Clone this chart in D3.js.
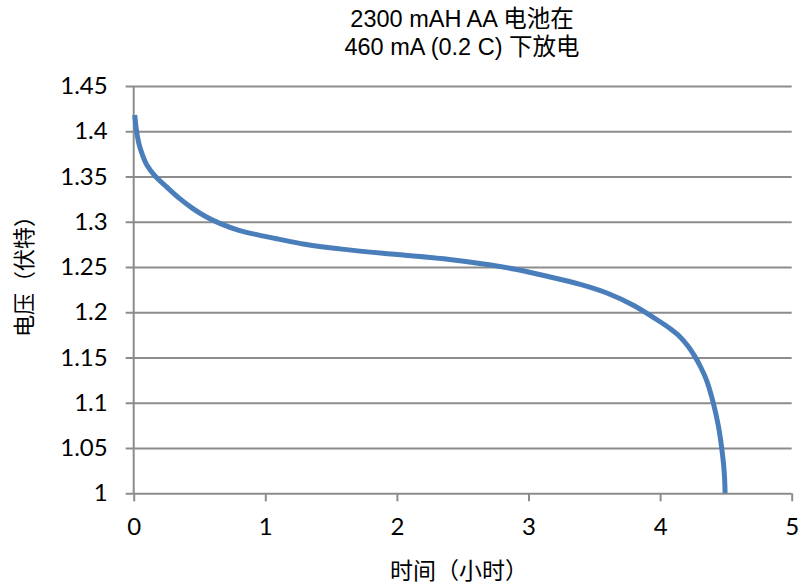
<!DOCTYPE html>
<html><head><meta charset="utf-8">
<script src="https://cdn.jsdelivr.net/npm/d3@7/dist/d3.min.js"></script>
<style>body{margin:0;background:#fff}</style>
</head><body>
<svg id="c" width="799" height="587"></svg>
<script>
const hours = [0.008, 0.02, 0.04, 0.07, 0.1, 0.16, 0.25, 0.35, 0.45, 0.55, 0.65, 0.8, 0.95, 1.1, 1.3, 1.6, 2.0, 2.4, 2.7, 2.9, 3.15, 3.4, 3.6, 3.8, 4.0, 4.075, 4.15, 4.21, 4.265, 4.31, 4.354, 4.404, 4.442, 4.468, 4.487, 4.494];
const volts = [1.418, 1.402, 1.386, 1.3725, 1.3628, 1.351, 1.3385, 1.3255, 1.3145, 1.3055, 1.2985, 1.2905, 1.2853, 1.2808, 1.2752, 1.2695, 1.2638, 1.2584, 1.2525, 1.2475, 1.2395, 1.2305, 1.221, 1.2075, 1.1895, 1.182, 1.173, 1.163, 1.151, 1.139, 1.1245, 1.1, 1.075, 1.05, 1.024, 1.0];
const xTicks = [0, 1, 2, 3, 4, 5];
const yTicks = [1, 1.05, 1.1, 1.15, 1.2, 1.25, 1.3, 1.35, 1.4, 1.45];
const titleLines = ["2300 mAH AA 电池在", "460 mA (0.2 C) 下放电"];
const xLabel = "时间（小时）";
const yLabel = "电压（伏特）";

const svg = d3.select("#c");
const L = 133.7, R = 791.7, T = 86, B = 493.3;
const x = d3.scaleLinear().domain([0, 5]).range([L, R]);
const y = d3.scaleLinear().domain([1, 1.45]).range([B, T]);
const grid = "#8c8c8c";
const tickFont = "Lato, 'Open Sans', sans-serif";

const ya = svg.append("g").attr("transform", `translate(${L},0)`)
  .call(d3.axisLeft(y).tickValues(yTicks).tickSize(-(R - L)).tickFormat(d => String(d)).tickPadding(26));
ya.select(".domain").remove();
ya.selectAll(".tick line").attr("stroke", grid).attr("stroke-width", 2).attr("x1", -8);
ya.selectAll(".tick text").attr("font-family", tickFont).attr("font-size", 24).attr("fill", "#000");

const xa = svg.append("g").attr("transform", `translate(0,${B})`)
  .call(d3.axisBottom(x).tickValues(xTicks).tickSize(8).tickFormat(d3.format("d")).tickPadding(17));
xa.select(".domain").remove();
xa.selectAll(".tick line").attr("stroke", grid).attr("stroke-width", 2);
xa.selectAll(".tick text").attr("font-family", tickFont).attr("font-size", 24).attr("fill", "#000");

svg.append("line").attr("x1", L).attr("x2", L).attr("y1", T).attr("y2", B)
  .attr("stroke", grid).attr("stroke-width", 2);

const data = hours.map((h, i) => [h, volts[i]]);
svg.append("path").datum(data)
  .attr("fill", "none").attr("stroke", "#4a7ebb").attr("stroke-width", 5)
  .attr("stroke-linecap", "butt")
  .attr("d", d3.line().x(d => x(d[0])).y(d => y(d[1])).curve(d3.curveCatmullRom.alpha(0.5)));

const tf = "'Liberation Sans', Arial, 'Noto Sans CJK SC', sans-serif";
svg.append("g").selectAll("text").data(titleLines).join("text")
  .attr("x", 462).attr("y", (d, i) => 27 + i * 28)
  .attr("text-anchor", "middle").attr("font-family", tf).attr("font-size", 23.5).attr("fill", "#000")
  .text(d => d);

svg.append("text").attr("x", 459).attr("y", 579).attr("text-anchor", "middle")
  .attr("font-family", "'Noto Sans CJK SC', sans-serif").attr("font-size", 23).text(xLabel);
svg.append("text").attr("transform", "translate(32,271) rotate(-90)").attr("text-anchor", "middle")
  .attr("font-family", "'Noto Sans CJK SC', sans-serif").attr("font-size", 22).text(yLabel);
</script>
</body></html>
